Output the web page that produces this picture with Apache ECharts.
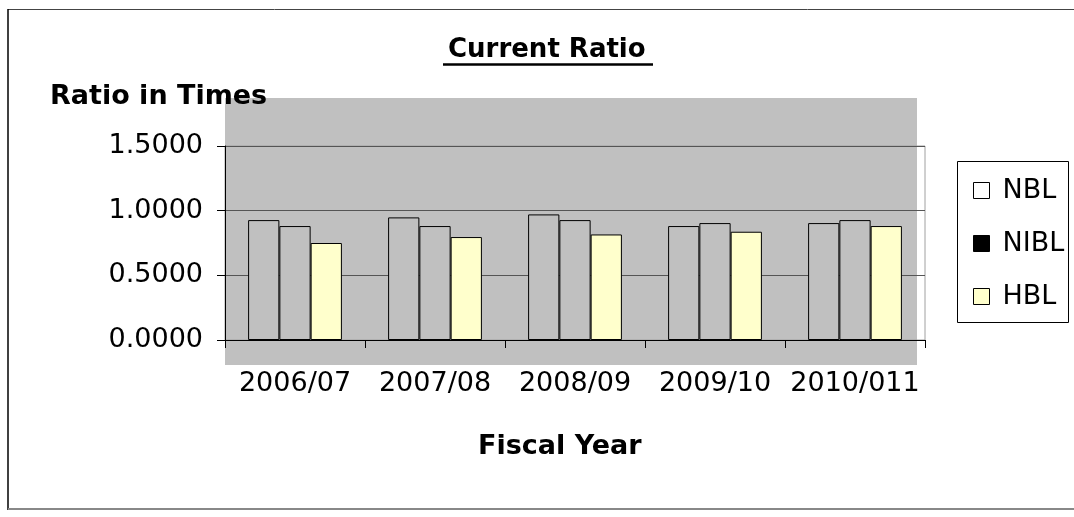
<!DOCTYPE html>
<html>
<head>
<meta charset="utf-8">
<script src="https://cdn.jsdelivr.net/npm/echarts@6/dist/echarts.min.js"></script>
<style>html,body{margin:0;padding:0;background:#fff;}#c{width:1074px;height:517px;}</style>
</head>
<body>
<div id="c"></div>
<script>
var categories = ['2006/07', '2007/08', '2008/09', '2009/10', '2010/011'];
var nbl  = [0.927, 0.948, 0.971, 0.881, 0.904];
var nibl = [0.881, 0.881, 0.927, 0.904, 0.927];
var hbl  = [0.750, 0.796, 0.816, 0.837, 0.881];
var yTicks = [0, 0.5, 1.0, 1.5];

var FONT = 'DejaVu Sans';
var chart = echarts.init(document.getElementById('c'), null, {renderer: 'canvas'});
var barBorder = {borderColor: '#000', borderWidth: 1};
chart.setOption({
  backgroundColor: '#fff',
  animation: false,
  title: {
    text: 'Current Ratio',
    left: 443, top: 32,
    textStyle: {fontFamily: FONT, fontSize: 26, fontWeight: 'bold', color: '#000'}
  },
  legend: {
    orient: 'vertical',
    left: 968, top: 172,
    itemWidth: 16, itemHeight: 16,
    itemGap: 26,
    icon: 'rect',
    textStyle: {fontFamily: FONT, fontSize: 27, color: '#000', padding: [0, 0, 0, 8]},
    data: [
      {name: 'NBL', itemStyle: {color: '#fff', borderColor: '#000', borderWidth: 1}},
      {name: 'NIBL', itemStyle: {color: '#000', borderColor: '#000', borderWidth: 1}},
      {name: 'HBL', itemStyle: {color: '#ffffcc', borderColor: '#000', borderWidth: 1}}
    ]
  },
  grid: {
    left: 225, right: 149, top: 146, bottom: 177,
    show: true, borderColor: '#a0a0a0', borderWidth: 1, backgroundColor: 'transparent'
  },
  xAxis: {
    type: 'category',
    data: categories,
    boundaryGap: true,
    axisLine: {lineStyle: {color: '#000', width: 1}},
    axisTick: {show: true, length: 8, lineStyle: {color: '#000'}},
    axisLabel: {fontFamily: FONT, fontSize: 27, color: '#000', margin: 30, interval: 0}
  },
  yAxis: {
    type: 'value',
    min: yTicks[0], max: yTicks[yTicks.length - 1], interval: 0.5,
    axisLine: {show: true, lineStyle: {color: '#000', width: 1}},
    axisTick: {show: true, length: 8, lineStyle: {color: '#000'}},
    splitLine: {show: true, lineStyle: {color: '#555', width: 1}},
    axisLabel: {fontFamily: FONT, fontSize: 27, color: '#000', margin: 22,
      formatter: function (v) { return v.toFixed(4); }}
  },
  series: [
    {name: 'NBL', type: 'bar', data: nbl, barGap: '0%', barCategoryGap: '33%',
     itemStyle: Object.assign({color: '#c0c0c0'}, barBorder)},
    {name: 'NIBL', type: 'bar', data: nibl, barGap: '0%', barCategoryGap: '33%',
     itemStyle: Object.assign({color: '#c0c0c0'}, barBorder)},
    {name: 'HBL', type: 'bar', data: hbl, barGap: '0%', barCategoryGap: '33%',
     itemStyle: Object.assign({color: '#ffffcc'}, barBorder)}
  ],
  graphic: [
    {type: 'rect', z: -100, silent: true, shape: {x: 225, y: 98, width: 692, height: 267}, style: {fill: '#c0c0c0'}},
    {type: 'line', silent: true, shape: {x1: 8, y1: 9.5, x2: 1074, y2: 9.5}, style: {stroke: '#444', lineWidth: 1}},
    {type: 'line', silent: true, shape: {x1: 8, y1: 9, x2: 8, y2: 510}, style: {stroke: '#000', lineWidth: 1.5}},
    {type: 'line', silent: true, shape: {x1: 8, y1: 509, x2: 1074, y2: 509}, style: {stroke: '#888', lineWidth: 2}},
    {type: 'line', silent: true, shape: {x1: 443, y1: 64.5, x2: 653, y2: 64.5}, style: {stroke: '#000', lineWidth: 2.5}},
    {type: 'rect', silent: true, shape: {x: 957.5, y: 161.5, width: 111, height: 161}, style: {fill: 'none', stroke: '#000', lineWidth: 1}},
    {type: 'text', silent: true, left: 50, top: 83,
     style: {text: 'Ratio in Times', font: 'bold 27px "DejaVu Sans"', fill: '#000'}},
    {type: 'text', silent: true, left: 478, top: 433,
     style: {text: 'Fiscal Year', font: 'bold 27px "DejaVu Sans"', fill: '#000'}}
  ]
});
</script>
</body>
</html>
